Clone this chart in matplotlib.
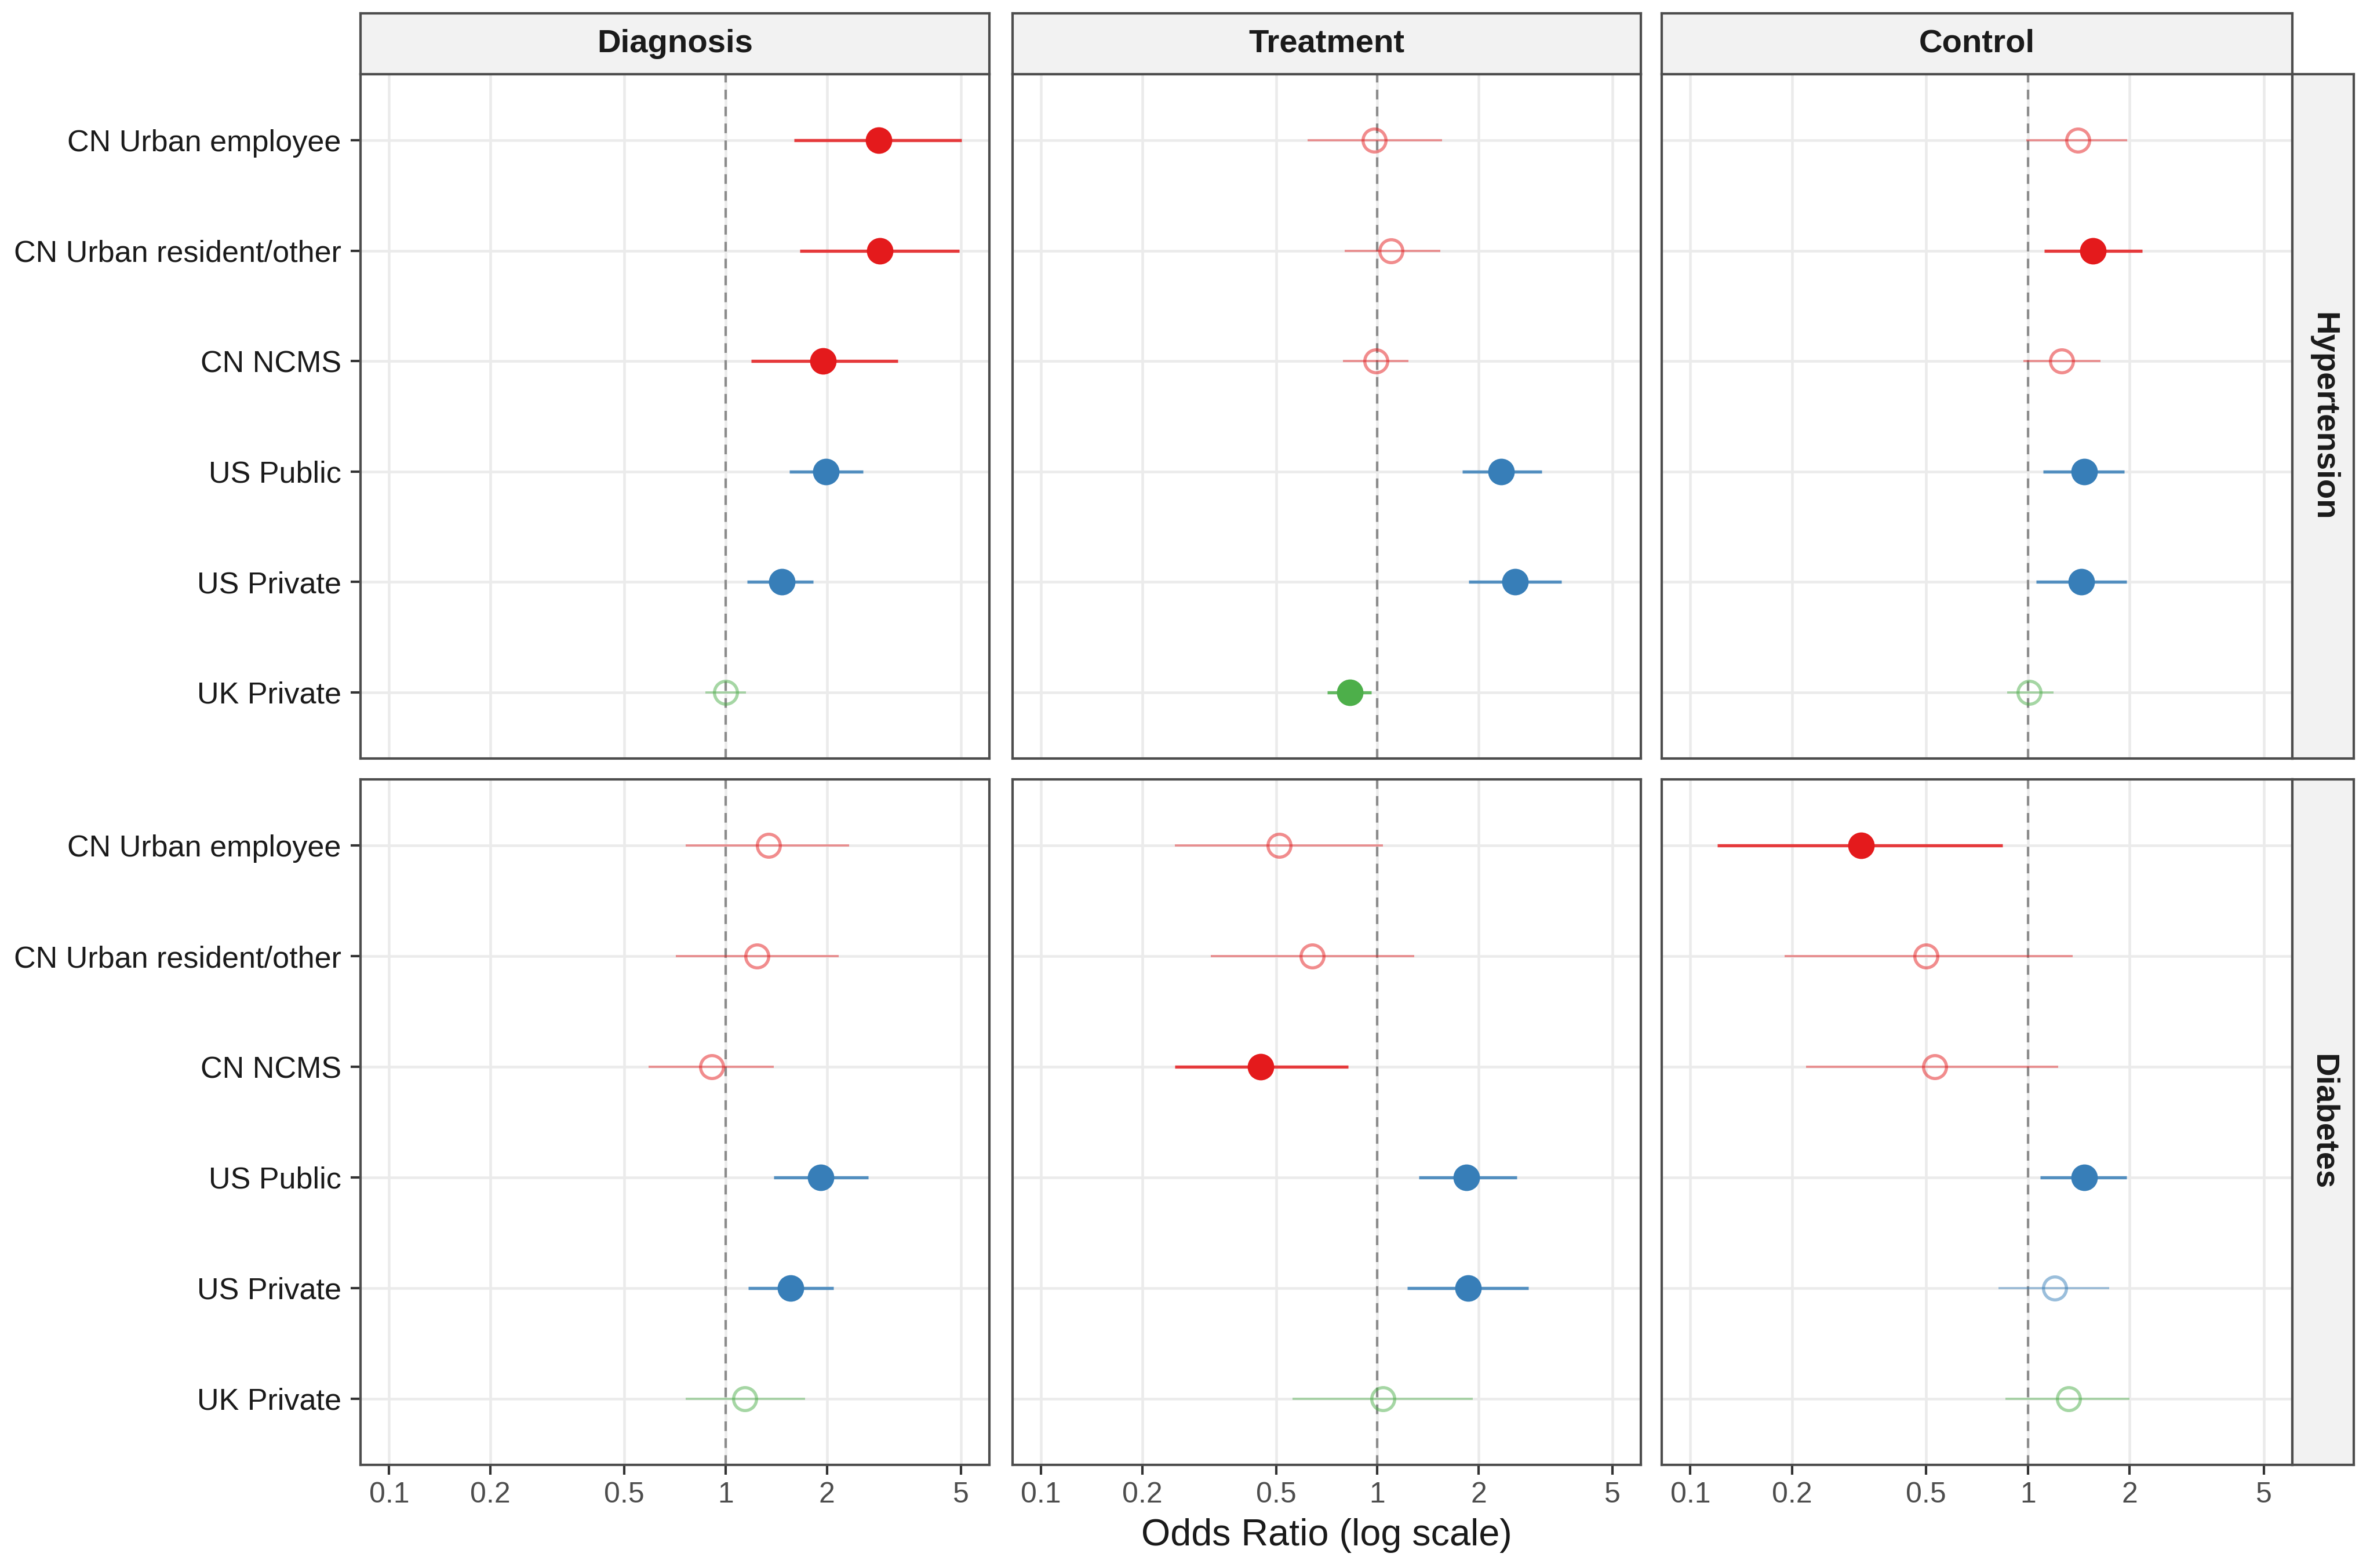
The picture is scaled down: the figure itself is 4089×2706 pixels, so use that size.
import matplotlib
matplotlib.use("Agg")
import matplotlib.pyplot as plt
import numpy as np

plt.rcParams['font.family'] = ['Liberation Sans', 'DejaVu Sans']

groups = ["CN Urban employee", "CN Urban resident/other", "CN NCMS",
          "US Public", "US Private", "UK Private"]
group_colors = ["#E41A1C", "#E41A1C", "#E41A1C", "#377EB8", "#377EB8", "#4DAF4A"]
outcomes = ["Diagnosis", "Treatment", "Control"]
diseases = ["Hypertension", "Diabetes"]

# Hypertension
ht_diag_or = [2.85, 2.87, 1.95, 1.99, 1.47, 1.00]
ht_diag_lo = [1.60, 1.66, 1.19, 1.55, 1.16, 0.87]
ht_diag_hi = [5.03, 4.94, 3.25, 2.56, 1.82, 1.15]
ht_treat_or = [0.98, 1.10, 0.99, 2.34, 2.57, 0.83]
ht_treat_lo = [0.62, 0.80, 0.79, 1.79, 1.87, 0.71]
ht_treat_hi = [1.56, 1.54, 1.24, 3.08, 3.53, 0.96]
ht_ctrl_or = [1.41, 1.56, 1.26, 1.47, 1.44, 1.01]
ht_ctrl_lo = [0.99, 1.12, 0.97, 1.11, 1.06, 0.87]
ht_ctrl_hi = [1.97, 2.18, 1.64, 1.93, 1.96, 1.19]
# Diabetes
dm_diag_or = [1.34, 1.24, 0.91, 1.92, 1.56, 1.14]
dm_diag_lo = [0.76, 0.71, 0.59, 1.39, 1.17, 0.76]
dm_diag_hi = [2.33, 2.17, 1.39, 2.65, 2.09, 1.72]
dm_treat_or = [0.51, 0.64, 0.45, 1.84, 1.86, 1.04]
dm_treat_lo = [0.25, 0.32, 0.25, 1.33, 1.23, 0.56]
dm_treat_hi = [1.04, 1.29, 0.82, 2.60, 2.82, 1.92]
dm_ctrl_or = [0.32, 0.50, 0.53, 1.47, 1.20, 1.32]
dm_ctrl_lo = [0.12, 0.19, 0.22, 1.09, 0.82, 0.86]
dm_ctrl_hi = [0.84, 1.36, 1.23, 1.96, 1.74, 2.00]

data = {
    ("Hypertension", "Diagnosis"): (ht_diag_or, ht_diag_lo, ht_diag_hi),
    ("Hypertension", "Treatment"): (ht_treat_or, ht_treat_lo, ht_treat_hi),
    ("Hypertension", "Control"): (ht_ctrl_or, ht_ctrl_lo, ht_ctrl_hi),
    ("Diabetes", "Diagnosis"): (dm_diag_or, dm_diag_lo, dm_diag_hi),
    ("Diabetes", "Treatment"): (dm_treat_or, dm_treat_lo, dm_treat_hi),
    ("Diabetes", "Control"): (dm_ctrl_or, dm_ctrl_lo, dm_ctrl_hi),
}

xticks = [0.1, 0.2, 0.5, 1, 2, 5]
xticklabels = ["0.1", "0.2", "0.5", "1", "2", "5"]

W, H = 4089, 2706
dpi = 300
fig = plt.figure(figsize=(W / dpi, H / dpi), dpi=dpi)
fig.patch.set_facecolor("white")

def fx(px):
    return px / W

def fy(py):
    return 1 - py / H

col_x = [(622, 1707), (1747, 2831), (2867, 3955)]
row_y = [(128, 1309), (1345, 2528)]
strip_top = (23, 128)
strip_right = (3955, 4061)

border_col = "#4D4D4D"
span = np.log10(5) - np.log10(0.1)
xlim = (10 ** (np.log10(0.1) - 0.05 * span), 10 ** (np.log10(5) + 0.05 * span))
ypos = np.arange(1, len(groups) + 1)

for r, dis in enumerate(diseases):
    for c, out in enumerate(outcomes):
        x0, x1 = col_x[c]
        y0, y1 = row_y[r]
        ax = fig.add_axes([fx(x0), fy(y1), fx(x1 - x0), (y1 - y0) / H])
        ax.set_xscale("log")
        ax.set_xlim(*xlim)
        ax.set_ylim(len(groups) + 0.6, 0.4)
        ax.set_xticks(xticks)
        ax.xaxis.set_minor_locator(matplotlib.ticker.NullLocator())
        ax.set_yticks(ypos)
        for xv in xticks:
            ax.axvline(xv, color="#EBEBEB", lw=1.1, zorder=0)
        for yv in ypos:
            ax.axhline(yv, color="#EBEBEB", lw=1.1, zorder=0)
        ax.axvline(1, color="#8C8C8C", lw=1.0, ls=(0, (4, 3)), zorder=1)
        ors, los, his = data[(dis, out)]
        for i in range(len(groups)):
            col = group_colors[i]
            sig = (los[i] > 1) or (his[i] < 1)
            y = ypos[i]
            if sig:
                ax.plot([los[i], his[i]], [y, y], color=col, lw=1.3, alpha=0.85,
                        solid_capstyle="butt", zorder=2)
                ax.plot([ors[i]], [y], marker="o", ms=11, color=col,
                        mec=col, mew=0, zorder=3)
            else:
                ax.plot([los[i], his[i]], [y, y], color=col, lw=0.9, alpha=0.45,
                        solid_capstyle="butt", zorder=2)
                ax.plot([ors[i]], [y], marker="o", ms=9.5, mfc="none",
                        mec=col, mew=1.3, alpha=0.5, zorder=3)
        for sp in ax.spines.values():
            sp.set_color(border_col)
            sp.set_linewidth(1.0)
        ax.tick_params(axis="both", which="major", length=4, width=1.0,
                       color="#333333")
        if r == 1:
            ax.set_xticklabels(xticklabels, fontsize=12, color="#4D4D4D")
            ax.tick_params(axis="x", pad=3)
        else:
            ax.tick_params(axis="x", length=0, labelbottom=False)
        if c == 0:
            ax.set_yticklabels(groups, fontsize=12.5, color="#1A1A1A")
            ax.tick_params(axis="y", pad=4)
        else:
            ax.tick_params(axis="y", length=0, labelleft=False)

        if r == 0:
            sax = fig.add_axes([fx(x0), fy(strip_top[1]), fx(x1 - x0),
                                (strip_top[1] - strip_top[0]) / H])
            sax.set_facecolor("#F2F2F2")
            sax.set_xticks([]); sax.set_yticks([])
            for sp in sax.spines.values():
                sp.set_color(border_col); sp.set_linewidth(1.0)
            sax.text(0.5, 0.5, out, ha="center", va="center", fontsize=13.5,
                     fontweight="bold", color="#1A1A1A", transform=sax.transAxes)
        if c == 2:
            rx0, rx1 = strip_right
            rax = fig.add_axes([fx(rx0), fy(y1), fx(rx1 - rx0), (y1 - y0) / H])
            rax.set_facecolor("#F2F2F2")
            rax.set_xticks([]); rax.set_yticks([])
            for sp in rax.spines.values():
                sp.set_color(border_col); sp.set_linewidth(1.0)
            rax.text(0.5, 0.5, dis, ha="center", va="center", fontsize=13.5,
                     fontweight="bold", rotation=-90, color="#1A1A1A",
                     transform=rax.transAxes)

fig.text(fx((622 + 3955) / 2), fy(2650), "Odds Ratio (log scale)", ha="center",
         va="center", fontsize=15.5, color="#1A1A1A")

fig.savefig("out.png", dpi=dpi, facecolor="white")
